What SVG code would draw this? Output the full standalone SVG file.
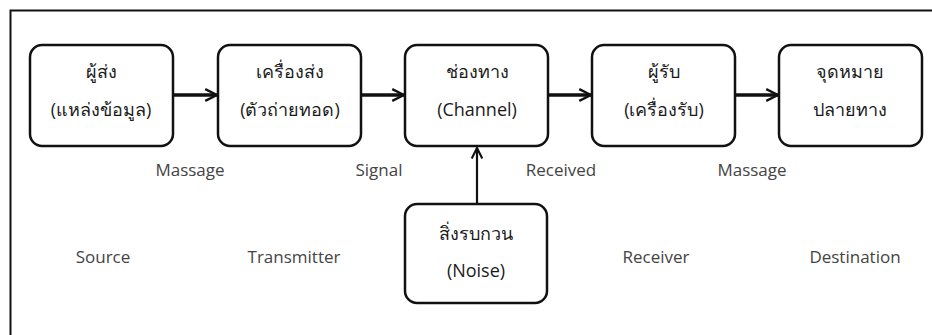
<svg xmlns="http://www.w3.org/2000/svg" width="932" height="335" viewBox="0 0 932 335">
<style>
.box{fill:#fff;stroke:#111;stroke-width:2.5}
.th{font-family:"Open Sans","Noto Sans",sans-serif;font-size:18px;fill:#1a1a1a;text-anchor:middle}
.lbl{font-family:"Open Sans","Liberation Sans",sans-serif;font-size:17px;fill:#444;text-anchor:middle}
.conn{stroke:#111;fill:none}
</style>
<defs>
<marker id="ah" viewBox="0 0 10 10" refX="9" refY="5" markerWidth="4.2" markerHeight="4.2" orient="auto" markerUnits="strokeWidth">
<path d="M1,1 L9,5 L1,9" fill="none" stroke="#111" stroke-width="1.6"/>
</marker>
<marker id="ah2" viewBox="0 0 10 10" refX="9" refY="5" markerWidth="6" markerHeight="6" orient="auto" markerUnits="strokeWidth">
<path d="M1,1 L9,5 L1,9" fill="none" stroke="#111" stroke-width="1.6"/>
</marker>
</defs>
<rect width="932" height="335" fill="#fff"/>
<path d="M10.5,335 V10.5 H932" fill="none" stroke="#111" stroke-width="2"/>
<g id="connectors">
<line class="conn" x1="174" y1="95" x2="217" y2="95" stroke-width="3.5" marker-end="url(#ah)"/>
<line class="conn" x1="362" y1="95" x2="404" y2="95" stroke-width="3.5" marker-end="url(#ah)"/>
<line class="conn" x1="549" y1="95" x2="591" y2="95" stroke-width="3.5" marker-end="url(#ah)"/>
<line class="conn" x1="736" y1="95" x2="778" y2="95" stroke-width="3.5" marker-end="url(#ah)"/>
<line class="conn" x1="477" y1="204" x2="477" y2="148" stroke-width="2.2" marker-end="url(#ah2)"/>
</g>
<g id="source">
<rect class="box" x="30" y="45" width="143" height="101" rx="12"/>
<text class="th" x="101" y="78">ผู้ส่ง</text>
<text class="th" x="101" y="116">(แหล่งข้อมูล)</text>
</g>
<g id="transmitter">
<rect class="box" x="218" y="45" width="143" height="101" rx="12"/>
<text class="th" x="290" y="78">เครื่องส่ง</text>
<text class="th" x="290" y="116">(ตัวถ่ายทอด)</text>
</g>
<g id="channel">
<rect class="box" x="405" y="45" width="143" height="101" rx="12"/>
<text class="th" x="477" y="78">ช่องทาง</text>
<text class="th" x="477" y="116">(Channel)</text>
</g>
<g id="receiver">
<rect class="box" x="592" y="45" width="143" height="101" rx="12"/>
<text class="th" x="664" y="78">ผู้รับ</text>
<text class="th" x="664" y="116">(เครื่องรับ)</text>
</g>
<g id="destination">
<rect class="box" x="779" y="45" width="143" height="101" rx="12"/>
<text class="th" x="850" y="78">จุดหมาย</text>
<text class="th" x="850" y="116">ปลายทาง</text>
</g>
<g id="noise">
<rect class="box" x="405" y="204" width="142" height="99" rx="12"/>
<text class="th" x="476" y="240">สิ่งรบกวน</text>
<text class="th" x="476" y="277">(Noise)</text>
</g>
<g id="labels">
<text class="lbl" x="190" y="176">Massage</text>
<text class="lbl" x="379" y="176">Signal</text>
<text class="lbl" x="561" y="176">Received</text>
<text class="lbl" x="752" y="176">Massage</text>
<text class="lbl" x="103" y="263">Source</text>
<text class="lbl" x="294" y="263">Transmitter</text>
<text class="lbl" x="656" y="263">Receiver</text>
<text class="lbl" x="855" y="263">Destination</text>
</g>
</svg>
